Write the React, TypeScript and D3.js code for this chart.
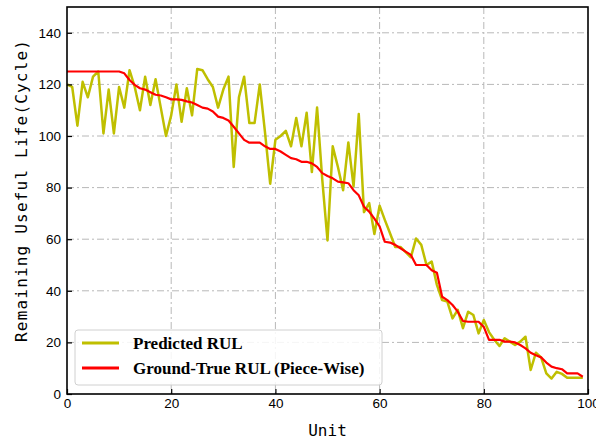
import React, { useRef, useEffect } from "react";
import * as d3 from "d3";

// predicted RUL per unit
const predicted = [
  120, 119, 104, 121, 115, 123, 125, 101, 118, 101,
  119, 111, 125.5, 119, 110, 123, 112, 122, 111, 100,
  108, 120, 105.5, 118.5, 108, 126, 125.5, 122, 119, 111,
  118, 123, 88, 115, 123, 105, 105, 120, 101.5, 81.5,
  98.5, 100, 102, 96, 107, 96, 109, 86, 111, 83,
  59.5, 96, 88, 79, 97.5, 80.5, 108.5, 70.5, 74, 62,
  73, 67.5, 62.3, 57, 57, 55, 53, 60.3, 57.8, 50,
  51.3, 42.3, 36.4, 35.8, 29.3, 32.6, 25.5, 31.9, 30.6, 23.5,
  28.7, 24, 21, 18.6, 21.6, 20.3, 19, 20.3, 22.2, 9.3,
  16, 14.2, 8, 6, 8.6, 7.8, 6.3, 6.3, 6.3, 6.3,
];

// piece-wise ground truth RUL
const groundTruth = [
  125, 125, 125, 125, 125, 125, 125, 125, 125, 125,
  125, 124.3, 121.7, 119.8, 118.5, 118, 117, 116, 115.7, 115,
  114.2, 114.2, 114, 113.4, 113, 112, 111, 110.6, 109.5, 107.5,
  107, 106, 103.6, 101, 98.5, 97.4, 97.4, 97.4, 96, 95,
  95, 94, 92.7, 91.4, 91, 90, 90, 89.4, 88, 85.6,
  84.5, 83.6, 82.3, 82, 81.7, 79, 77, 72.6, 70.7, 68,
  65, 59, 58.7, 57.8, 56.5, 55.2, 53.9, 50, 50, 50,
  48, 47, 37.7, 36.4, 34.5, 31.9, 28.3, 28, 28, 28,
  26, 21, 21, 21, 20.3, 20.3, 20, 19, 17.7, 16,
  15, 14.2, 12.2, 10.6, 10, 9.6, 8, 8, 8, 6.7,
];

const xTicks = [0, 20, 40, 60, 80, 100];
const yTicks = [0, 20, 40, 60, 80, 100, 120, 140];
const legendItems = [
  { label: "Predicted RUL", color: "#bfbf00" },
  { label: "Ground-True RUL (Piece-Wise)", color: "#ff0000" },
];

export default function App() {
  const svgRef = useRef<SVGSVGElement>(null);

  useEffect(() => {
    const width = 596;
    const height = 439;
    const left = 67, right = 588, top = 7, bottom = 394;

    const svg = d3.select(svgRef.current);
    svg.selectAll("*").remove();

    const x = d3.scaleLinear().domain([0, 100]).range([left, right]);
    const y = d3.scaleLinear().domain([0, 150]).range([bottom, top]);

    svg.append("rect").attr("width", width).attr("height", height).attr("fill", "#fff");

    // dash-dot grid
    const grid = svg.append("g")
      .attr("stroke", "#b8b8b8")
      .attr("stroke-width", 1)
      .attr("stroke-dasharray", "7,3,2,3");
    grid.selectAll("line.gx")
      .data(xTicks.filter(d => d > 0 && d < 100))
      .join("line")
      .attr("class", "gx")
      .attr("x1", d => x(d)).attr("x2", d => x(d))
      .attr("y1", top).attr("y2", bottom);
    grid.selectAll("line.gy")
      .data(yTicks.filter(d => d > 0))
      .join("line")
      .attr("class", "gy")
      .attr("x1", left).attr("x2", right)
      .attr("y1", d => y(d)).attr("y2", d => y(d));

    const line = d3.line<number>()
      .x((d, i) => x(i))
      .y(d => y(d));

    svg.append("path")
      .datum(predicted)
      .attr("fill", "none")
      .attr("stroke", "#bfbf00")
      .attr("stroke-width", 2.5)
      .attr("stroke-linejoin", "round")
      .attr("d", line);

    svg.append("path")
      .datum(groundTruth)
      .attr("fill", "none")
      .attr("stroke", "#ff0000")
      .attr("stroke-width", 2.2)
      .attr("stroke-linejoin", "round")
      .attr("d", line);

    // axes, ticks inward
    const xAxis = svg.append("g")
      .attr("transform", `translate(0,${bottom})`)
      .call(d3.axisBottom(x).tickValues(xTicks).tickSize(-5).tickPadding(4));
    const yAxis = svg.append("g")
      .attr("transform", `translate(${left},0)`)
      .call(d3.axisLeft(y).tickValues(yTicks).tickSize(-5).tickPadding(6));
    [xAxis, yAxis].forEach(g => {
      g.select(".domain").remove();
      g.selectAll("line").attr("stroke", "#000").attr("stroke-width", 1.2);
      g.selectAll("text")
        .attr("fill", "#000")
        .style("font-family", "'Liberation Sans', Arial, sans-serif")
        .style("font-size", "13.5px");
    });

    // frame
    svg.append("rect")
      .attr("x", left).attr("y", top)
      .attr("width", right - left).attr("height", bottom - top)
      .attr("fill", "none")
      .attr("stroke", "#000")
      .attr("stroke-width", 1.6);

    // axis labels
    svg.append("text")
      .attr("x", (left + right) / 2)
      .attr("y", 436)
      .attr("text-anchor", "middle")
      .style("font-family", "'DejaVu Sans Mono', monospace")
      .style("font-size", "16px")
      .text("Unit");

    svg.append("text")
      .attr("transform", "translate(27,191) rotate(-90)")
      .attr("text-anchor", "middle")
      .attr("textLength", 302)
      .attr("lengthAdjust", "spacing")
      .style("font-family", "'DejaVu Sans Mono', monospace")
      .style("font-size", "16px")
      .text("Remaining Useful Life(Cycle)");

    // legend
    const lg = svg.append("g");
    lg.append("rect")
      .attr("x", 75).attr("y", 330)
      .attr("width", 307).attr("height", 55)
      .attr("rx", 3)
      .attr("fill", "#fff")
      .attr("fill-opacity", 0.85)
      .attr("stroke", "#d0d0d0");
    const item = lg.selectAll("g.item")
      .data(legendItems)
      .join("g")
      .attr("class", "item")
      .attr("transform", (d, i) => `translate(0,${343 + i * 25})`);
    item.append("line")
      .attr("x1", 82).attr("x2", 119)
      .attr("stroke", d => d.color)
      .attr("stroke-width", 3);
    item.append("text")
      .attr("x", 133)
      .attr("y", 6)
      .style("font-family", "'Liberation Serif', 'Times New Roman', serif")
      .style("font-weight", "bold")
      .style("font-size", "17px")
      .text(d => d.label);
  }, []);

  return (
    <svg
      ref={svgRef}
      width={596}
      height={439}
      style={{ position: "absolute", left: 0, top: 0 }}
    />
  );
}
